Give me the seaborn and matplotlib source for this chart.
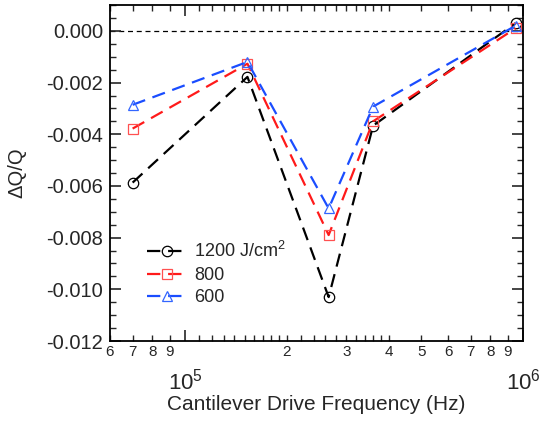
import numpy as np
import pandas as pd
import seaborn as sns
import matplotlib
matplotlib.use("Agg")
import matplotlib.pyplot as plt
from matplotlib.ticker import FuncFormatter, FixedLocator, MultipleLocator

sns.set_style("ticks")
plt.rcParams['font.family'] = ['Liberation Sans', 'DejaVu Sans']
plt.rcParams['mathtext.fontset'] = 'custom'
plt.rcParams['mathtext.rm'] = 'Liberation Sans'
plt.rcParams['mathtext.it'] = 'Liberation Sans:italic'

freq = [7.0e4, 1.53e5, 2.66e5, 3.6e5, 9.5e5]
dq_1200 = [-0.00587, -0.00178, -0.0103, -0.00367, 0.0003]
dq_800 = [-0.00378, -0.00127, -0.0079, -0.0035, 0.0001]
dq_600 = [-0.00286, -0.00120, -0.00687, -0.00293, 0.0002]
labels = ["1200 J/cm$^2$", "800", "600"]
colors = ["black", "#ff1a1a", "#1a4dff"]
edge_colors = ["black", "#ff5050", "#3366ff"]
markers = ["o", "s", "^"]

# labeled minor tick digits and extra unlabeled minor ticks
minor_digits = [6, 7, 8, 9, 2, 3, 4, 5, 6, 7, 8, 9]
extra_minor = [1.1e5, 1.2e5, 1.3e5, 1.4e5, 1.5e5, 1.6e5, 1.7e5, 1.8e5, 1.9e5,
               2.2e5, 2.4e5, 2.6e5, 2.8e5, 3.2e5, 3.4e5, 3.6e5, 3.8e5]

fig = plt.figure(figsize=(5.4, 4.21), dpi=100)
ax = fig.add_axes([0.2037, 0.19, 0.765, 0.798])

for vals, lab, c, ec, m in zip([dq_1200, dq_800, dq_600], labels, colors, edge_colors, markers):
    df = pd.DataFrame({"f": freq, "dq": vals})
    sns.lineplot(data=df, x="f", y="dq", ax=ax, color=c, label=lab,
                 marker=m, markersize=7.5, markerfacecolor="none",
                 markeredgecolor=ec, markeredgewidth=0.9,
                 linewidth=1.6, dashes=(6, 3.5))

ax.axhline(0, color="black", linewidth=0.9, linestyle=(0, (4, 3)), zorder=0)

ax.set_xscale("log")
ax.set_xlim(6e4, 1e6)
ax.set_ylim(-0.012, 0.001)

ax.yaxis.set_major_locator(MultipleLocator(0.002))
ax.yaxis.set_minor_locator(MultipleLocator(0.0005))
ax.yaxis.set_major_formatter(FuncFormatter(lambda v, p: f"{v:.3f}"))

ax.xaxis.set_major_locator(FixedLocator([1e5, 1e6]))
ax.xaxis.set_major_formatter(FuncFormatter(lambda v, p: f"$10^{{{int(round(np.log10(v)))}}}$"))
minor_pos = [6e4, 7e4, 8e4, 9e4, 2e5, 3e5, 4e5, 5e5, 6e5, 7e5, 8e5, 9e5]
ax.xaxis.set_minor_locator(FixedLocator(minor_pos + extra_minor))
lab_map = {round(p): str(d) for p, d in zip(minor_pos, minor_digits)}
ax.xaxis.set_minor_formatter(FuncFormatter(lambda v, p: lab_map.get(round(v), "")))

ax.tick_params(axis="both", which="both", direction="in", top=True, right=True)
ax.tick_params(axis="x", which="major", length=8, width=1.2, labelsize=16, pad=20)
ax.tick_params(axis="x", which="minor", length=4, width=1, labelsize=11, pad=3)
ax.tick_params(axis="y", which="major", length=8, width=1.2, labelsize=14.5, pad=5)
ax.tick_params(axis="y", which="minor", length=4, width=1)

for sp in ax.spines.values():
    sp.set_linewidth(1.3)
    sp.set_color("black")

ax.set_xlabel("Cantilever Drive Frequency (Hz)", fontsize=15, labelpad=0)
ax.set_ylabel("ΔQ/Q", fontsize=14.5, labelpad=14)

ax.legend(loc="lower left", bbox_to_anchor=(0.05, 0.055), frameon=False,
          fontsize=13, handlelength=2.2, handletextpad=0.4, labelspacing=0.3)

fig.savefig("out.png", dpi=100)
